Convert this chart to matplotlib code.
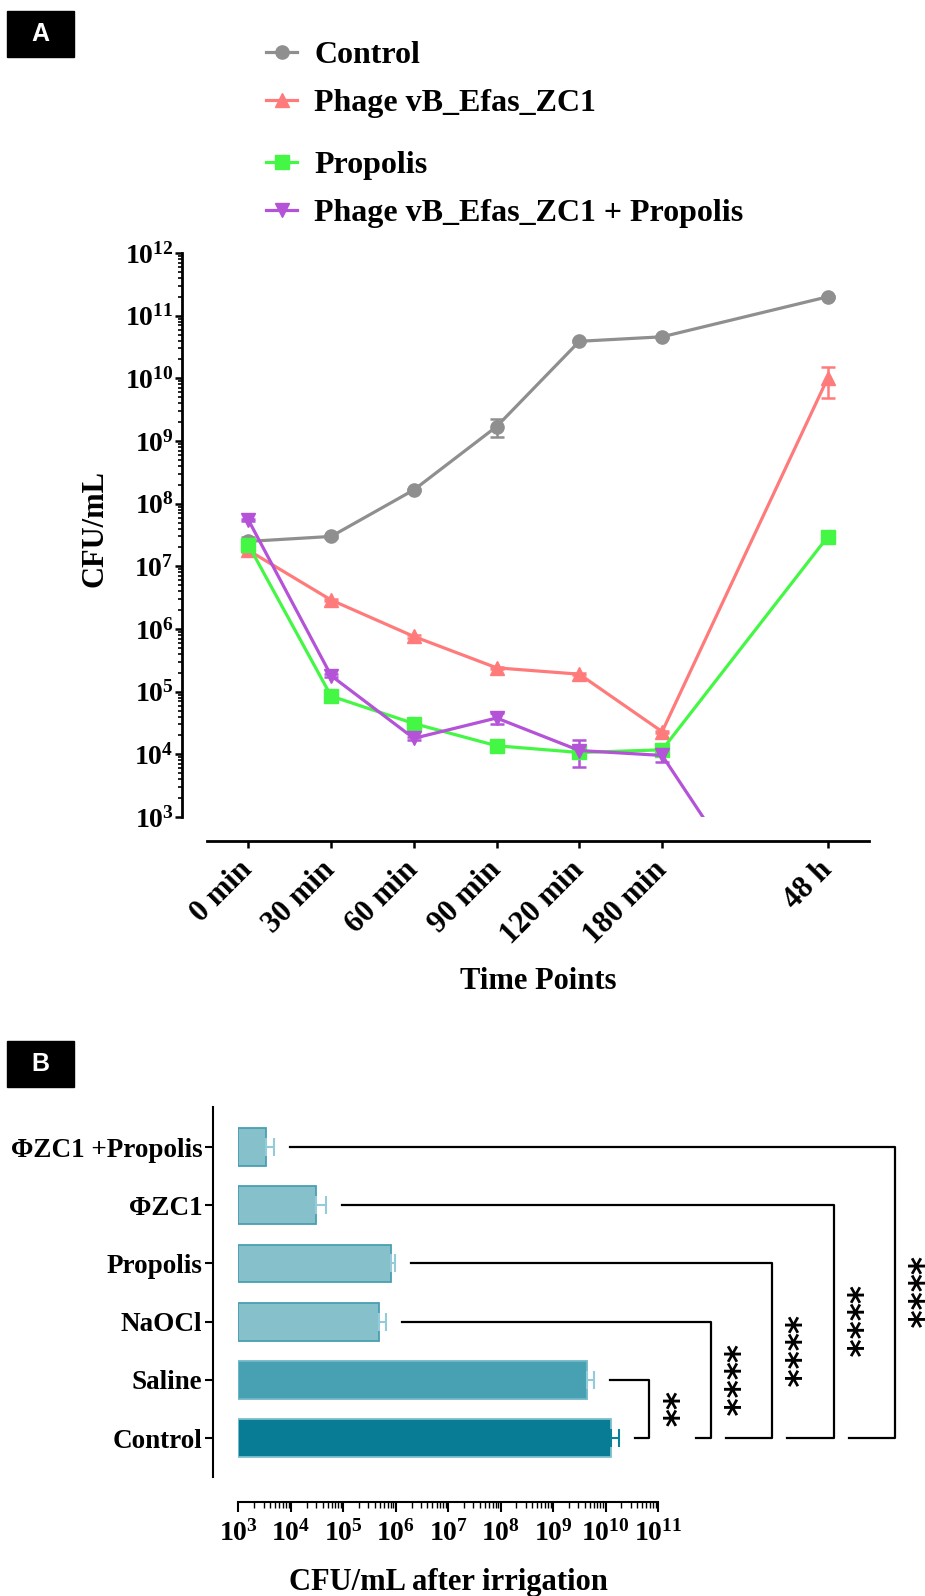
import numpy as np
import matplotlib
matplotlib.use("Agg")
import matplotlib.pyplot as plt
import matplotlib.transforms as mtransforms
from matplotlib.lines import Line2D
from matplotlib.patches import Rectangle
from matplotlib.ticker import FixedLocator, LogLocator, FuncFormatter, NullFormatter

plt.rcParams['font.family'] = ['Liberation Serif', 'DejaVu Serif']
plt.rcParams['font.weight'] = 'bold'
plt.rcParams['axes.labelweight'] = 'bold'
plt.rcParams['mathtext.fontset'] = 'custom'
plt.rcParams['mathtext.rm'] = 'Liberation Serif:bold'
plt.rcParams['mathtext.bf'] = 'Liberation Serif:bold'
plt.rcParams['mathtext.it'] = 'Liberation Serif:bold'

# ---------------- data, panel A (CFU/mL over time)
time_labels = ["0 min", "30 min", "60 min", "90 min", "120 min", "180 min", "48 h"]
time_pos = [0, 1, 2, 3, 4, 5, 7]

control = [2.5e7, 3.0e7, 1.66e8, 1.7e9, 3.9e10, 4.6e10, 2.0e11]
control_err = [0.4e7, 0.2e7, 0.8e7, 0.55e9, 1.5e9, 1.5e9, 8e9]
phage = [1.8e7, 2.9e6, 7.6e5, 2.4e5, 1.9e5, 2.3e4, 1.0e10]
phage_err = [1e6, 1e5, 3e4, 1e4, 8e3, 1e3, 5.1e9]
propolis = [2.2e7, 8.5e4, 3.1e4, 1.37e4, 1.07e4, 1.18e4, 2.95e7]
propolis_err = [1e6, 4e3, 1e3, 5e2, 5e2, 5e2, 1e6]
combo = [5.5e7, 1.8e5, 1.8e4, 3.8e4, 1.15e4, 9.6e3, 1.0]
combo_err = [2e6, 1e4, 1e3, 7e3, 5.2e3, 2.1e3, 0]

series_names = ["Control", "Phage vB_Efas_ZC1", "Propolis", "Phage vB_Efas_ZC1 + Propolis"]
series_colors = ["#8f8f8f", "#ff7b7b", "#44f744", "#b452d8"]
series_markers = ["o", "^", "s", "v"]

# ---------------- data, panel B (CFU/mL after irrigation)
groups = ["Control", "Saline", "NaOCl", "Propolis", "\u03a6ZC1", "\u03a6ZC1 +Propolis"]
cfu = [1.26e10, 4.4e9, 4.8e5, 8.0e5, 3.0e4, 3.4e3]
cfu_err = [5.2e9, 1.6e9, 1.8e5, 1.8e5, 1.7e4, 1.3e3]
bar_face = ["#077c94", "#48a0b3", "#86c0cb", "#86c0cb", "#86c0cb", "#86c0cb"]
bar_edge = ["#7cc1cd", "#72b9c7", "#4a9fb2", "#4a9fb2", "#4a9fb2", "#4a9fb2"]
err_color = ["#0a8099", "#93ccd8", "#93ccd8", "#93ccd8", "#93ccd8", "#93ccd8"]
stars = ["**", "****", "****", "****", "****"]   # vs Control, for groups 1..5

W, H = 925, 1596
def fx(px):
    return px / W
def fy(py):
    return 1 - py / H

fig = plt.figure(figsize=(W / 100, H / 100), dpi=100)

# panel letters
for letter, top in [("A", 11), ("B", 1041)]:
    fig.add_artist(Rectangle((fx(7), fy(top + 46)), fx(74) - fx(7), 46 / H,
                             transform=fig.transFigure, color="black"))
    fig.text(fx(40.5), fy(top + 23), letter, color="white", fontsize=18,
             family="Liberation Sans", weight="bold", ha="center", va="center")

# ---------------- panel A
axA = fig.add_axes([fx(207), fy(817), (869 - 207) / W, (817 - 253) / H])
series = [(control, control_err), (phage, phage_err), (propolis, propolis_err), (combo, combo_err)]
for (vals, err), col, mk in zip(series, series_colors, series_markers):
    axA.errorbar(time_pos, vals, yerr=err, color=col, marker=mk, ms=9.5, lw=2.3,
                 capsize=4.8, capthick=1.8, elinewidth=1.8)

axA.set_yscale("log")
axA.set_ylim(1e3, 1e12)
axA.set_xlim(-0.5, 7.5)
axA.yaxis.set_major_locator(FixedLocator([10.0 ** k for k in range(3, 13)]))
axA.yaxis.set_major_formatter(FuncFormatter(lambda v, p: r"$\mathbf{10^{%d}}$" % round(np.log10(v))))
axA.yaxis.set_minor_locator(LogLocator(base=10, subs=np.arange(2, 10), numticks=100))
axA.yaxis.set_minor_formatter(NullFormatter())
axA.set_xticks(time_pos)
axA.set_xticklabels(time_labels)
for s in ["top", "right"]:
    axA.spines[s].set_visible(False)
axA.spines["left"].set_position(("outward", 18))
axA.spines["bottom"].set_position(("outward", 17))
for s in ["left", "bottom"]:
    axA.spines[s].set_linewidth(2)
axA.tick_params(axis="y", which="major", length=5, width=1.8, labelsize=20, pad=1)
axA.tick_params(axis="y", which="minor", length=3, width=1.2)
axA.tick_params(axis="x", which="major", length=5, width=1.8, labelsize=22, pad=13)
plt.setp(axA.get_xticklabels(), rotation=45, ha="right", va="center", rotation_mode="anchor")
axA.set_ylabel("CFU/mL", fontsize=22, fontweight="bold", va="center")
axA.yaxis.set_label_coords(-0.169, 0.512)
axA.set_xlabel("Time Points", fontsize=22, fontweight="bold", va="center")
axA.xaxis.set_label_coords(0.5, -0.292)

# legend, drawn by hand to keep the original row spacing
leg_rows = [52, 100, 162, 210]
for name, col, mk, yy in zip(series_names, series_colors, series_markers, leg_rows):
    fig.add_artist(Line2D([fx(266), fx(281.5), fx(297)], [fy(yy)] * 3, color=col, lw=2.3,
                          marker=mk, markevery=[1], ms=9.5, transform=fig.transFigure))
    fig.text(fx(314), fy(yy + 11), name, fontsize=23, ha="left", va="baseline")

# ---------------- panel B
axB = fig.add_axes([fx(238.5), fy(1477), (658 - 238.5) / W, (1477 - 1107) / H])
ypos = np.arange(len(groups))
lo = 1e3
axB.barh(ypos, np.array(cfu) - lo, left=lo, height=0.65, color=bar_face,
         edgecolor=bar_edge, linewidth=1.3, zorder=2)
for y, v, e, c in zip(ypos, cfu, cfu_err, err_color):
    axB.errorbar(v, y, xerr=[[0], [e]], color=c, capsize=6.5, capthick=1.5,
                 elinewidth=1.5, fmt="none", zorder=3)

axB.set_xscale("log")
axB.set_xlim(1e3, 1e11)
axB.set_ylim(-0.67, 5.69)
axB.xaxis.set_major_locator(FixedLocator([10.0 ** k for k in range(3, 12)]))
axB.xaxis.set_major_formatter(FuncFormatter(lambda v, p: r"$\mathbf{10^{%d}}$" % round(np.log10(v))))
axB.xaxis.set_minor_locator(LogLocator(base=10, subs=np.arange(2, 10), numticks=100))
axB.xaxis.set_minor_formatter(NullFormatter())
axB.set_yticks(ypos)
axB.set_yticklabels(groups)
for s in ["top", "right"]:
    axB.spines[s].set_visible(False)
axB.spines["left"].set_position(("outward", 18))
axB.spines["bottom"].set_position(("outward", 18))
for s in ["left", "bottom"]:
    axB.spines[s].set_linewidth(1.5)
axB.tick_params(axis="y", length=6, width=1.5, labelsize=19.5, pad=2)
axB.tick_params(axis="x", which="major", length=7, width=1.5, labelsize=20, pad=6)
axB.tick_params(axis="x", which="minor", length=4, width=1.0)
axB.set_xlabel("CFU/mL after irrigation", fontsize=22, fontweight="bold", va="center")
axB.xaxis.set_label_coords(0.5, -0.284)

# significance brackets against Control (x in axes fraction, y in data)
trans = mtransforms.blended_transform_factory(axB.transAxes, axB.transData)
def xa(v):
    return (np.log10(v) - 3) / 8
gap = 16 / 419.5
vert_x = [0.979, 1.126, 1.272, 1.420, 1.565]
foot_x = [0.945, 1.091, 1.162, 1.308, 1.455]
star_x = [1.010, 1.155, 1.301, 1.449, 1.594]
for i, lab in enumerate(stars):
    g = i + 1
    x0 = xa(cfu[g] + cfu_err[g]) + gap
    axB.plot([x0, vert_x[i], vert_x[i], foot_x[i]], [g, g, 0, 0], color="black",
             lw=1.6, transform=trans, clip_on=False)
    axB.text(star_x[i], g / 2, lab, transform=trans, rotation=270, fontsize=25,
             family="DejaVu Sans", weight="bold", ha="center", va="center")

fig.savefig("out.png", dpi=100)
